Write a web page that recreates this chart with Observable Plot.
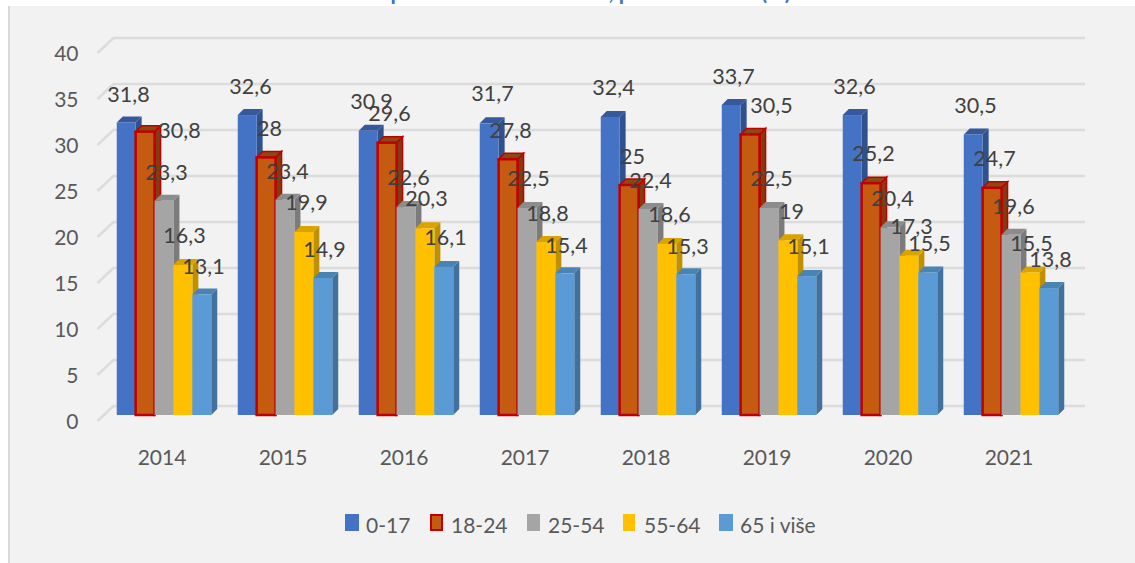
<!DOCTYPE html>
<html lang="bs">
<head>
<meta charset="utf-8">
<title>Stopa rizika od siromaštva</title>
<script src="https://cdn.jsdelivr.net/npm/d3@7"></script>
<script src="https://cdn.jsdelivr.net/npm/@observablehq/plot@0.6"></script>
<style>
  html, body { margin: 0; padding: 0; background: #fff; overflow: hidden; }
  #page { position: relative; width: 1135px; height: 563px; overflow: hidden; font-family: Lato, sans-serif; }
  #panel { position: absolute; left: 8px; top: 6px; right: 0; bottom: 0; background: #f2f2f2; border-left: 2px solid #d9d9d9; }
  #title { position: absolute; left: 359px; top: -23px; line-height: 30px; font-size: 21.5px; font-weight: 700; color: #4472c4; white-space: nowrap; }
  #chart { position: absolute; left: 0; top: 0; }
  .lg { position: absolute; top: 514px; height: 17px; font-size: 21px; line-height: 22px; color: #595959; white-space: nowrap; }
  .lg i { position: absolute; left: 0; top: 0; height: 17px; box-sizing: border-box; }
  .lg span { position: absolute; top: 0; }
</style>
</head>
<body>
<div id="page">
  <div id="panel"></div>
  <div id="title">Stopa rizika od siromaštva, prema starosti (%)</div>
  <div id="chart"></div>
  <div id="legend"></div>
</div>
<script>
const years = [2014, 2015, 2016, 2017, 2018, 2019, 2020, 2021];
const series = ["0-17", "18-24", "25-54", "55-64", "65 i više"];
const values017 = [31.8, 32.6, 30.9, 31.7, 32.4, 33.7, 32.6, 30.5];
const values1824 = [30.8, 28, 29.6, 27.8, 25, 30.5, 25.2, 24.7];
const values2554 = [23.3, 23.4, 22.6, 22.5, 22.4, 22.5, 20.4, 19.6];
const values5564 = [16.3, 19.9, 20.3, 18.8, 18.6, 19, 17.3, 15.5];
const values65 = [13.1, 14.9, 16.1, 15.4, 15.3, 15.1, 15.5, 13.8];
const allValues = [values017, values1824, values2554, values5564, values65];

const colors = ["#4472c4", "#c55a11", "#a5a5a5", "#ffc000", "#5b9bd5"];
const sideColors = ["#2f528f", "#843c0c", "#7b7b7b", "#bf9000", "#41719c"];
const topColors = ["#35599c", "#8a4a12", "#8c8c8c", "#d9a300", "#4a84b5"];
const redEdge = "#c00000";

// Hand-placed data label centres (px) as they sit in the source chart.
const labelX = [
  [128, 250, 371, 492, 613, 733, 854, 975],
  [179, 269, 389, 510, 632, 771, 873, 994],
  [166, 287, 408, 528, 650, 771, 892, 1013],
  [184, 306, 426, 547, 669, 791, 911, 1031],
  [203, 324, 445, 566, 687, 808, 929, 1050]
];
const labelY = [
  [95, 87, 102, 94, 88, 77, 87, 106],
  [131, 129, 114, 131, 157, 106, 154, 159],
  [173, 172, 178, 179, 181, 179, 199, 207],
  [236, 203, 199, 214, 215, 212, 227, 244],
  [267, 250, 238, 246, 247, 247, 244, 260]
];

const W = 1135, H = 563, left = 113, right = 1085, top0 = 47, base = 415;
const pitch = 121, center2014 = 164, barW = 18.9 / pitch, depth = 6;
const xDomain = [2014 + (left - center2014) / pitch, 2014 + (right - center2014) / pitch];
const pxX = (px) => 2014 + (px - center2014) / pitch;
const pxY = (py) => (base - py) / ((base - top0) / 40);

const bars = [], labels = [];
years.forEach((year, yi) => {
  series.forEach((s, si) => {
    const v = allValues[si][yi];
    const x1 = year + (si - 2.5) * barW;
    bars.push({ year, s, si, v, x1, x2: x1 + barW });
    labels.push({ v, x: pxX(labelX[si][yi]), y: pxY(labelY[si][yi]) });
  });
});

const NS = "http://www.w3.org/2000/svg";
function poly(pts, fill, stroke) {
  const p = document.createElementNS(NS, "polygon");
  p.setAttribute("points", pts.map((a) => a.join(",")).join(" "));
  p.setAttribute("fill", fill);
  if (stroke) { p.setAttribute("stroke", stroke); p.setAttribute("stroke-width", 1.5); }
  return p;
}
// 3D faces are drawn from the bar rectangles that the scales positioned.
function extrude(index, scales, values, dims, ctx, next) {
  const g = next(index, scales, values, dims, ctx);
  const rects = [...g.querySelectorAll("rect")];
  rects.forEach((r, k) => {
    const d = bars[index[k]];
    const x = +r.getAttribute("x"), y = +r.getAttribute("y");
    const w = +r.getAttribute("width"), h = +r.getAttribute("height");
    const edge = d.si === 1 ? redEdge : null;
    r.parentNode.insertBefore(poly([[x + w, y], [x + w + depth, y - depth], [x + w + depth, y + h - depth], [x + w, y + h]], sideColors[d.si], edge), r);
    r.parentNode.insertBefore(poly([[x, y], [x + depth, y - depth], [x + w + depth, y - depth], [x + w, y]], topColors[d.si], edge), r);
    if (edge) { r.setAttribute("stroke", edge); r.setAttribute("stroke-width", 2.5); }
  });
  return g;
}

const ticks = d3.range(0, 41, 5);
const chart = Plot.plot({
  width: W, height: H,
  marginLeft: left, marginRight: W - right, marginTop: top0, marginBottom: H - base,
  style: { background: "transparent", fontFamily: "Lato, sans-serif", overflow: "visible" },
  x: { domain: xDomain, axis: null },
  y: { domain: [0, 40], axis: null },
  color: { domain: series, range: colors },
  marks: [
    Plot.ruleY(ticks, { y: (d) => d, dy: -9.5, stroke: "#dcdcdc", strokeWidth: 2.5 }),
    Plot.link(ticks, {
      x1: () => pxX(97), x2: () => pxX(113),
      y1: (d) => d - 5.5 / 9.2, y2: (d) => d + 9.5 / 9.2,
      stroke: "#dcdcdc", strokeWidth: 2.5
    }),
    Plot.rect(bars, { x1: "x1", x2: "x2", y1: 0, y2: "v", fill: "s", render: extrude }),
    Plot.axisY(ticks, { anchor: "left", tickSize: 0, tickPadding: 35, dy: 6.5, fontSize: 21, fill: "#595959", tickFormat: (d) => String(d), label: null }),
    Plot.axisX(years, { anchor: "bottom", tickSize: 0, tickPadding: 35, dx: -2.5, fontSize: 21, fill: "#595959", tickFormat: (d) => String(d), label: null }),
    Plot.text(labels, {
      x: "x", y: "y", text: (d) => String(d.v).replace(".", ","),
      fontSize: 21.5, fill: "#404040", textAnchor: "middle", lineAnchor: "middle"
    })
  ]
});
document.getElementById("chart").appendChild(chart);

// Legend
const legendLeft = [345, 430, 527, 623, 719];
const swatchW = [14, 13, 13, 12, 14];
const textGap = [21, 21, 21, 21, 21];
const legend = document.getElementById("legend");
series.forEach((s, i) => {
  const item = document.createElement("div");
  item.className = "lg";
  item.style.left = legendLeft[i] + "px";
  const sw = document.createElement("i");
  sw.style.width = swatchW[i] + "px";
  sw.style.background = colors[i];
  if (i === 1) sw.style.border = "2px solid " + redEdge;
  const t = document.createElement("span");
  t.style.left = textGap[i] + "px";
  t.textContent = s;
  item.append(sw, t);
  legend.appendChild(item);
});
</script>
</body>
</html>
